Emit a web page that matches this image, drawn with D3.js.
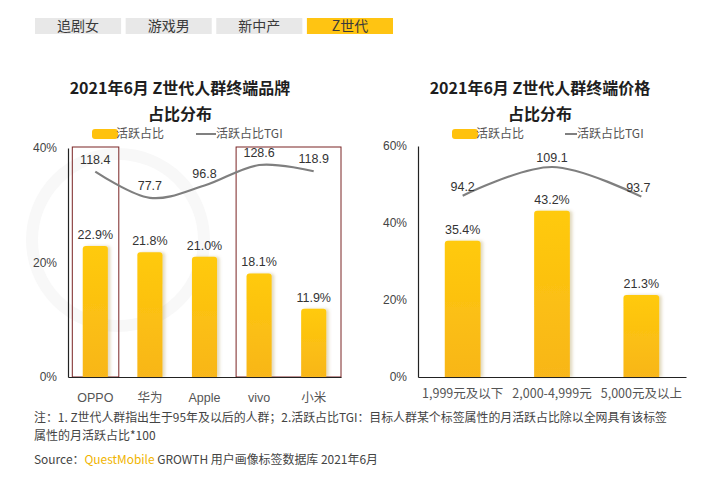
<!DOCTYPE html>
<html>
<head>
<meta charset="utf-8">
<script src="https://cdn.jsdelivr.net/npm/d3@7/dist/d3.min.js"></script>
<style>
html,body{margin:0;padding:0;background:#fff;}
svg{display:block;}
</style>
</head>
<body>
<script>
// ---------- data ----------
const tabs = ["追剧女", "游戏男", "新中产", "Z世代"];
const activeTab = "Z世代";

const brandTitle = ["2021年6月 Z世代人群终端品牌", "占比分布"];
const brandCats = ["OPPO", "华为", "Apple", "vivo", "小米"];
const brandShare = [22.9, 21.8, 21.0, 18.1, 11.9];
const brandTGI = [118.4, 77.7, 96.8, 128.6, 118.9];
const brandTicks = [0, 20, 40];
const brandBoxes = [["OPPO", "OPPO"], ["vivo", "小米"]];

const priceTitle = ["2021年6月 Z世代人群终端价格", "占比分布"];
const priceCats = ["1,999元及以下", "2,000-4,999元", "5,000元及以上"];
const priceShare = [35.4, 43.2, 21.3];
const priceTGI = [94.2, 109.1, 93.7];
const priceTicks = [0, 20, 40, 60];

const legendLabels = ["活跃占比", "活跃占比TGI"];
const noteLines = [
  "注：1. Z世代人群指出生于95年及以后的人群；2.活跃占比TGI：目标人群某个标签属性的月活跃占比除以全网具有该标签",
  "属性的月活跃占比*100"
];
const sourceParts = ["Source：", "QuestMobile", " GROWTH 用户画像标签数据库 2021年6月"];

// ---------- setup ----------
const W = 720, H = 478;
const CJK = "'Noto Sans CJK SC', 'Liberation Sans', sans-serif";
const NUM = "'Liberation Sans', Arial, 'Noto Sans CJK SC', sans-serif";
const svg = d3.select("body").append("svg").attr("width", W).attr("height", H);

const defs = svg.append("defs");
const grad = defs.append("linearGradient").attr("id", "barGrad")
  .attr("x1", 0).attr("y1", 0).attr("x2", 0).attr("y2", 1);
grad.append("stop").attr("offset", "0%").attr("stop-color", "#ffca0a");
grad.append("stop").attr("offset", "100%").attr("stop-color", "#f8b61a");
const sh = defs.append("filter").attr("id", "shadow")
  .attr("x", "-30%").attr("y", "-10%").attr("width", "170%").attr("height", "120%");
sh.append("feDropShadow").attr("dx", 2.5).attr("dy", 0).attr("stdDeviation", 1.8)
  .attr("flood-color", "#8a6a00").attr("flood-opacity", 0.25);

// faint watermark logo ring
svg.append("circle").attr("cx", 118).attr("cy", 240).attr("r", 86)
  .attr("fill", "none").attr("stroke", "#f8f8f8").attr("stroke-width", 12);

// ---------- tabs ----------
const tabX = d3.scaleBand().domain(tabs).range([35, 393]).paddingInner(0.05);
const tg = svg.append("g");
tg.selectAll("rect").data(tabs).join("rect")
  .attr("x", d => tabX(d)).attr("y", 18)
  .attr("width", tabX.bandwidth()).attr("height", 16)
  .attr("fill", d => d === activeTab ? "#ffc412" : "#e8e8e8");
tg.selectAll("text").data(tabs).join("text")
  .attr("x", d => tabX(d) + tabX.bandwidth() / 2).attr("y", 26)
  .attr("dy", "0.36em").attr("text-anchor", "middle")
  .attr("font-family", CJK).attr("font-size", 14)
  .attr("fill", "#3a3a3a").text(d => d);

// ---------- chart builder ----------
function barPath(x, y, w, h, r) {
  r = Math.min(r, h, w / 2);
  return `M${x},${y + h}V${y + r}Q${x},${y} ${x + r},${y}H${x + w - r}Q${x + w},${y} ${x + w},${y + r}V${y + h}Z`;
}

function drawChart(o) {
  const g = svg.append("g");
  // title
  o.title.forEach((t, i) => {
    g.append("text").attr("x", o.cx).attr("y", 88 + i * 26).attr("dy", "0.36em")
      .attr("text-anchor", "middle").attr("font-family", CJK)
      .attr("font-size", 16).attr("font-weight", "bold").attr("fill", "#1e1e1e").text(t);
  });
  // legend
  const lg = g.append("g").attr("font-family", CJK).attr("font-size", 12).attr("fill", "#555");
  lg.append("rect").attr("x", o.leg[0]).attr("y", 129).attr("width", 26).attr("height", 10)
    .attr("rx", 3).attr("fill", "#ffc20e");
  lg.append("text").attr("x", o.leg[0] + 24).attr("y", 134).attr("dy", "0.36em").text(legendLabels[0]);
  lg.append("line").attr("x1", o.leg[1]).attr("x2", o.leg[2]).attr("y1", 134).attr("y2", 134)
    .attr("stroke", "#808080").attr("stroke-width", 2);
  lg.append("text").attr("x", o.leg[2]).attr("y", 134).attr("dy", "0.36em").text(legendLabels[1]);

  const x = d3.scaleBand().domain(o.cats).range([o.x0, o.x1]).paddingInner(o.pad).paddingOuter(o.pad / 2);
  const y = d3.scaleLinear().domain([0, d3.max(o.ticks)]).range([377, o.yTop]);
  const y2 = d3.scaleLinear().domain(o.tgiDomain).range([377, o.yTop]);
  const xc = d => x(d) + x.bandwidth() / 2;

  // boxes
  if (o.boxes) {
    o.boxes.forEach(([a, b]) => {
      const left = xc(a) - 23;
      const right = (b === o.cats[o.cats.length - 1]) ? o.x1 : xc(b) + 23.5;
      g.append("rect").attr("x", left).attr("y", o.yTop - 1).attr("width", right - left)
        .attr("height", 377 - o.yTop + 1).attr("fill", "none")
        .attr("stroke", "#7a2424").attr("stroke-width", 1);
    });
  }

  // bars
  const data = o.cats.map((c, i) => ({ c, v: o.share[i], t: o.tgi[i] }));
  g.append("g").selectAll("path").data(data).join("path")
    .attr("d", d => barPath(x(d.c), y(d.v), x.bandwidth(), 377 - y(d.v), 3))
    .attr("fill", "url(#barGrad)").attr("filter", "url(#shadow)");

  // axes
  const ya = g.append("g").attr("transform", `translate(${o.x0},0)`)
    .call(d3.axisLeft(y).tickValues(o.ticks).tickSize(0).tickSizeOuter(0).tickPadding(11)
      .tickFormat(d => d + "%"));
  ya.select(".domain").attr("stroke", "#222").attr("stroke-width", 1.2);
  ya.selectAll("text").attr("font-family", NUM).attr("font-size", 12).attr("fill", "#444");

  const xa = g.append("g").attr("transform", "translate(0,377)")
    .call(d3.axisBottom(x).tickSize(0).tickSizeOuter(0).tickPadding(o.xPad));
  xa.select(".domain").attr("stroke", "#222").attr("stroke-width", 1.2);
  xa.selectAll("text").attr("font-family", o.xFont).attr("font-size", o.xSize).attr("fill", "#555");

  // bar labels
  g.append("g").selectAll("text").data(data).join("text")
    .attr("x", d => xc(d.c)).attr("y", d => y(d.v) - 7)
    .attr("text-anchor", "middle").attr("font-family", NUM).attr("font-size", 12.5)
    .attr("fill", "#333").text(d => d.v.toFixed(1) + "%");

  // tgi line
  const line = d3.line().x(d => xc(d.c)).y(d => y2(d.t)).curve(d3.curveCardinal.tension(0));
  g.append("path").datum(data).attr("d", line).attr("fill", "none")
    .attr("stroke", "#7f7f7f").attr("stroke-width", 2.2);
  g.append("g").selectAll("text").data(data).join("text")
    .attr("x", (d, i) => xc(d.c) + (o.tgiDx ? o.tgiDx[i] : 0)).attr("y", d => y2(d.t) - o.tgiOff)
    .attr("text-anchor", "middle").attr("font-family", NUM).attr("font-size", 12.5)
    .attr("fill", "#333").text(d => d.t.toFixed(1));
}

drawChart({
  title: brandTitle, cx: 180, leg: [92, 196, 216],
  cats: brandCats, share: brandShare, tgi: brandTGI, ticks: brandTicks,
  x0: 68, x1: 341, pad: 0.54, yTop: 148, tgiDomain: [-200, 155],
  boxes: brandBoxes, xPad: 16, xFont: NUM, xSize: 12.5, tgiOff: 8
});
drawChart({
  title: priceTitle, cx: 540, leg: [452, 565, 577],
  cats: priceCats, share: priceShare, tgi: priceTGI, ticks: priceTicks,
  x0: 418, x1: 686, pad: 0.6, yTop: 146, tgiDomain: [0, 120],
  boxes: null, xPad: 12, xFont: CJK, xSize: 12.5, tgiOff: 5, tgiDx: [0, 0, -3]
});

// ---------- notes ----------
const ng = svg.append("g").attr("font-family", CJK).attr("font-size", 12).attr("fill", "#444");
noteLines.forEach((t, i) => {
  const tx = ng.append("text").attr("x", 34).attr("y", 422 + i * 17.6).text(t);
  if (i === 0) tx.attr("textLength", 633).attr("lengthAdjust", "spacingAndGlyphs");
});
const st = ng.append("text").attr("x", 34).attr("y", 460).attr("dy", "0.36em")
  .attr("textLength", 344).attr("lengthAdjust", "spacingAndGlyphs");
sourceParts.forEach((t, i) => {
  st.append("tspan").attr("fill", i === 1 ? "#f0b400" : "#444").text(t);
});
</script>
</body>
</html>
